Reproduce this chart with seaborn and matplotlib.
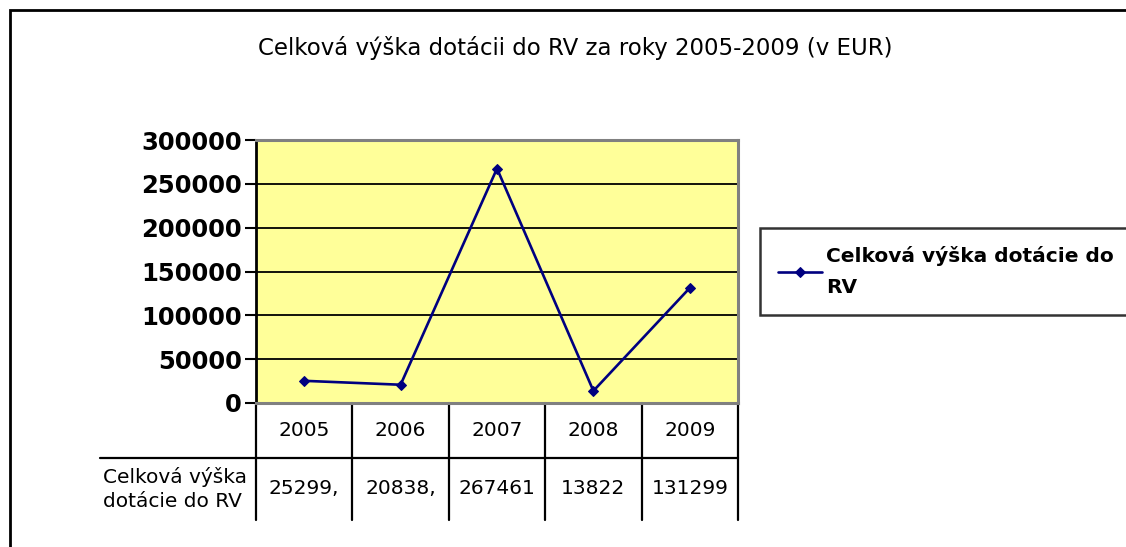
import matplotlib
matplotlib.use("Agg")
import matplotlib.pyplot as plt
import seaborn as sns
import pandas as pd
from matplotlib.patches import Rectangle
from matplotlib.lines import Line2D

years = ["2005", "2006", "2007", "2008", "2009"]
values = [25299, 20838, 267461, 13822, 131299]
table_texts = ["25299,", "20838,", "267461", "13822", "131299"]
series_name = "Celková výška dotácie do RV"
title = "Celková výška dotácii do RV za roky 2005-2009 (v EUR)"
yticks = [0, 50000, 100000, 150000, 200000, 250000, 300000]

sns.set_theme(style="white")
plt.rcParams['font.family'] = ['DejaVu Sans']
plt.rcParams['text.color'] = 'black'
plt.rcParams['ytick.color'] = 'black'
plt.rcParams['ytick.labelcolor'] = 'black'

W, H = 1126, 547
fig = plt.figure(figsize=(W / 100, H / 100), dpi=100)
fig.patch.set_facecolor("white")

# outer chart frame
fig.add_artist(Rectangle((10 / W, -0.2), 1.2, 1 - 10 / H + 0.2, transform=fig.transFigure,
                         fill=False, edgecolor="black", linewidth=2))

ax = fig.add_axes([256 / W, 1 - 403 / H, (738 - 256) / W, (403 - 140) / H])
ax.set_facecolor("#FFFF99")

df = pd.DataFrame({"year": years, "value": values, "series": series_name})
df["x"] = range(len(years))
sns.lineplot(data=df, x="x", y="value", ax=ax, color="#000080", linewidth=1.9,
             marker="D", markersize=5, markeredgecolor="#000080", label="Celková výška dotácie do\nRV",
             zorder=3)

ax.set_xlim(-0.5, len(years) - 0.5)
ax.set_ylim(0, 300000)
ax.set_yticks(yticks)
ax.set_yticklabels([str(v) for v in yticks], fontsize=17.5, fontweight="bold", color="black")
ax.set_xticks([])
ax.set_xlabel("")
ax.set_ylabel("")
for v in yticks[1:-1]:
    ax.axhline(v, color="black", linewidth=1.3, zorder=1)
ax.tick_params(axis="y", left=True, length=8, width=1.5, color="black", pad=2)
for s in ["top", "right", "bottom"]:
    ax.spines[s].set_color("#808080")
    ax.spines[s].set_linewidth(2.2)
ax.spines["left"].set_color("black")
ax.spines["left"].set_linewidth(2)

# data table below the plot
axh = 403 - 140
y1 = -(458 - 403) / axh
y2 = -(520 - 403) / axh
xl = (100 - 256) / (738 - 256)
tr = ax.get_xaxis_transform()
n = len(years)
for i in range(n + 1):
    ax.add_line(Line2D([i - 0.5, i - 0.5], [0, y2], transform=tr, color="black", linewidth=1.6, clip_on=False))
ax.add_line(Line2D([xl, 1], [y1, y1], transform=ax.transAxes, color="black", linewidth=1.6, clip_on=False))
for i, (yr, t) in enumerate(zip(years, table_texts)):
    ax.text(i, y1 / 2, yr, transform=tr, ha="center", va="center", fontsize=14.5, color="black")
    ax.text(i, (y1 + y2) / 2, t, transform=tr, ha="center", va="center", fontsize=14.5, color="black")
ax.text(xl + 0.006, (y1 + y2) / 2, "Celková výška\ndotácie do RV", transform=ax.transAxes,
        ha="left", va="center", fontsize=14.5, linespacing=1.3, color="black")

fig.text(575 / W, 1 - 48 / H, title, ha="center", va="center", fontsize=16.5, color="black")

leg = ax.legend(loc="upper left", bbox_to_anchor=(760 / W, 1 - 228 / H), bbox_transform=fig.transFigure,
                frameon=True, fancybox=False, prop={"weight": "bold", "size": 14.5},
                handlelength=2.2, borderpad=0.9, handletextpad=0.2, borderaxespad=0)
for t in leg.get_texts():
    t.set_linespacing(1.8)
    t.set_color("black")
leg.get_frame().set_edgecolor("black")
leg.get_frame().set_linewidth(1.8)

fig.savefig("out.png", dpi=100)
